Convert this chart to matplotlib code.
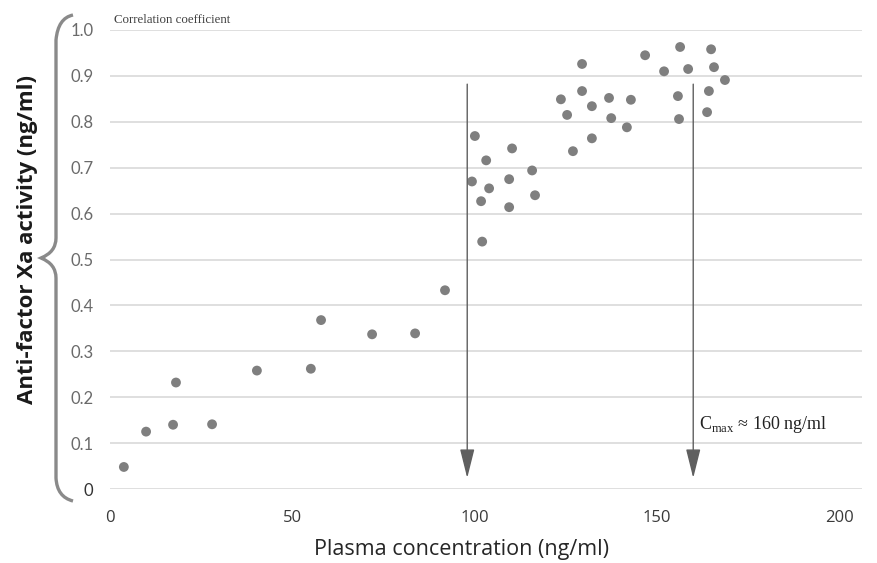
import matplotlib
matplotlib.use("Agg")
import matplotlib.pyplot as plt
from matplotlib.path import Path
from matplotlib.patches import PathPatch

# ---- data ----
conc = [3.8, 9.9, 17.3, 18.1, 28.0, 40.3, 55.1, 57.9, 71.9, 83.7, 91.9,
        99.3, 100.1, 101.8, 102.1, 103.2, 104.0, 109.5, 109.5, 110.3, 115.8, 116.6,
        123.7, 125.4, 127.0, 129.5, 129.5, 132.2, 132.2, 136.9, 137.5, 141.8, 142.9,
        146.8, 152.0, 155.8, 156.1, 156.4, 158.6, 163.8, 164.3, 164.9, 165.7, 168.7]
activity = [0.048, 0.125, 0.140, 0.232, 0.141, 0.258, 0.262, 0.368, 0.337, 0.339, 0.433,
            0.670, 0.769, 0.627, 0.539, 0.716, 0.655, 0.675, 0.614, 0.742, 0.694, 0.640,
            0.849, 0.815, 0.736, 0.867, 0.926, 0.834, 0.764, 0.852, 0.808, 0.788, 0.848,
            0.945, 0.910, 0.856, 0.806, 0.963, 0.915, 0.821, 0.867, 0.958, 0.919, 0.891]
x_ticks = [0, 50, 100, 150, 200]
x_tick_labels = ["0", "50", "100", "150", "200"]
y_ticks = [0, 0.1, 0.2, 0.3, 0.4, 0.5, 0.6, 0.7, 0.8, 0.9, 1.0]
y_tick_labels = ["0", "0.1", "0.2", "0.3", "0.4", "0.5", "0.6", "0.7", "0.8", "0.9", "1.0"]
arrow_x = [98, 160]
arrow_top = 0.882
arrow_tip = 0.024

W, H = 877, 563
fig = plt.figure(figsize=(W / 100, H / 100), dpi=100)
ax = fig.add_axes([110 / W, (H - 489) / H, (862 - 110) / W, (489 - 30) / H])

ax.set_xlim(0, 206.3)
ax.set_ylim(0, 1.0)
for s in ax.spines.values():
    s.set_visible(False)
ax.set_yticks(y_ticks)
ax.set_yticklabels(y_tick_labels)
ax.set_xticks(x_ticks)
ax.set_xticklabels(x_tick_labels)
ax.tick_params(axis="both", length=0)
ax.tick_params(axis="y", pad=12, labelsize=12, labelcolor="#6a6a6a")
ax.tick_params(axis="x", pad=15, labelsize=12, labelcolor="#3a3a3a")
for lab in ax.get_yticklabels():
    lab.set_fontfamily("Lato")
for lab in ax.get_xticklabels():
    lab.set_fontfamily("Open Sans")
ax.get_yticklabels()[0].set_color("#333333")
ax.grid(axis="y", color="#d9d9d9", linewidth=1.2)
ax.set_axisbelow(True)

ax.scatter(conc, activity, s=50, color="#7f7f7f", edgecolors="none", zorder=3, clip_on=False)

for xa in arrow_x:
    ax.annotate("", xy=(xa, arrow_tip), xytext=(xa, arrow_top),
                arrowprops=dict(arrowstyle="-|>,head_length=1.8,head_width=0.45",
                                mutation_scale=10, color="#5f5f5f", lw=1.0,
                                shrinkA=0, shrinkB=0), zorder=4)

ax.annotate("Correlation coefficient", xy=(0, 1.0), xycoords="axes fraction",
            xytext=(3, 3), textcoords="offset points", fontsize=9.3,
            family="Liberation Serif", color="#404040", va="bottom", ha="left")
ax.text(0.783, 0.14, r"C$_{\mathregular{max}}$ ≈ 160 ng/ml", transform=ax.transAxes,
        fontsize=13, family="Liberation Serif", color="#222222", ha="left", va="center")

fig.text(461 / W, 1 - 549 / H, "Plasma concentration (ng/ml)", fontsize=15.5,
         family="Open Sans", color="#262626", ha="center", va="center")
fig.text(28 / W, 1 - 240 / H, "Anti-factor Xa activity (ng/ml)", fontsize=16,
         family="Open Sans", weight="bold", color="#1a1a1a", rotation=90,
         ha="center", va="center")

# curly brace in figure pixel coordinates
bax = fig.add_axes([0, 0, 1, 1], zorder=-1)
bax.set_xlim(0, W)
bax.set_ylim(H, 0)
bax.axis("off")
verts = [(73, 15), (58, 18), (56, 40),
         (56, 238), (56, 252), (41, 258),
         (56, 264), (56, 278),
         (56, 478), (57, 497), (73, 501)]
codes = [Path.MOVETO, Path.CURVE3, Path.CURVE3,
         Path.LINETO, Path.CURVE3, Path.CURVE3,
         Path.CURVE3, Path.CURVE3,
         Path.LINETO, Path.CURVE3, Path.CURVE3]
bax.add_patch(PathPatch(Path(verts, codes), facecolor="none", edgecolor="#8a8a8a", lw=2.4))

fig.savefig("out.png", dpi=100, facecolor="white")
